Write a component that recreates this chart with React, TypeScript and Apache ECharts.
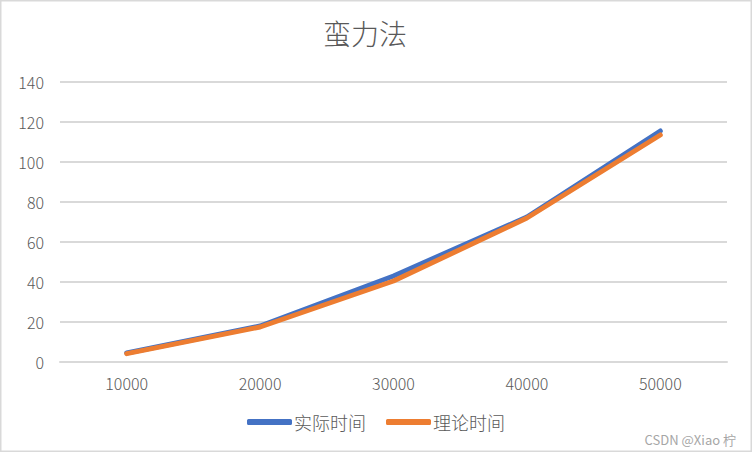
import React, { useEffect, useRef } from "react";
import * as echarts from "echarts";

const categories = ["10000", "20000", "30000", "40000", "50000"];
const actualTime = [4.5, 18, 43, 72.5, 115.5];
const theoryTime = [4.2, 17.5, 40.5, 72, 113.5];
const seriesNames = ["实际时间", "理论时间"];
const titleText = "蛮力法";
const watermark = "CSDN @Xiao 柠";

const FONT = "'Noto Sans CJK SC', 'Noto Sans', sans-serif";

export default function App() {
  const ref = useRef<HTMLDivElement>(null);
  useEffect(() => {
    document.body.style.margin = "0";
    const chart = echarts.init(ref.current!, null, { renderer: "svg" });
    chart.setOption({
      animation: false,
      backgroundColor: "#ffffff",
      title: {
        text: titleText,
        left: 318,
        top: 14,
        textStyle: { fontFamily: FONT, fontSize: 28, fontWeight: 300, color: "#595959" },
      },
      grid: { left: 60, right: 25, top: 82, bottom: 90 },
      legend: {
        bottom: 16,
        left: "center",
        itemWidth: 45,
        itemHeight: 6,
        itemGap: 20,
        icon: "roundRect",
        textStyle: { fontFamily: FONT, fontSize: 18, fontWeight: 300, color: "#595959", padding: [0, 0, 0, -3] },
        data: seriesNames,
      },
      xAxis: {
        type: "category",
        data: categories,
        boundaryGap: true,
        axisLine: { show: true, lineStyle: { color: "#D9D9D9", width: 2 } },
        axisTick: { show: false },
        axisLabel: { fontFamily: FONT, fontSize: 16, fontWeight: 300, color: "#595959", margin: 13 },
      },
      yAxis: {
        type: "value",
        min: 0,
        max: 140,
        interval: 20,
        axisLine: { show: false },
        axisTick: { show: false },
        splitLine: { lineStyle: { color: "#D9D9D9", width: 2 } },
        axisLabel: { fontFamily: FONT, fontSize: 16, fontWeight: 300, color: "#595959", margin: 16 },
      },
      series: [
        {
          name: seriesNames[0],
          type: "line",
          data: actualTime,
          symbol: "none",
          color: "#4472C4",
          lineStyle: { width: 5, color: "#4472C4", cap: "round", join: "round" },
        },
        {
          name: seriesNames[1],
          type: "line",
          data: theoryTime,
          symbol: "none",
          color: "#ED7D31",
          lineStyle: { width: 5, color: "#ED7D31", cap: "round", join: "round" },
        },
      ],
      graphic: [
        {
          type: "rect",
          shape: { x: 0.5, y: 0.5, width: 751, height: 451 },
          style: { fill: "none", stroke: "#D9D9D9", lineWidth: 2 },
          silent: true,
        },
        {
          type: "text",
          right: 16,
          bottom: 6,
          style: { text: watermark, fontFamily: FONT, fontSize: 13, fill: "#A6A6A6" },
        },
      ],
    });
    return () => chart.dispose();
  }, []);
  return <div ref={ref} style={{ position: "absolute", left: 0, top: 0, width: 752, height: 452 }} />;
}
